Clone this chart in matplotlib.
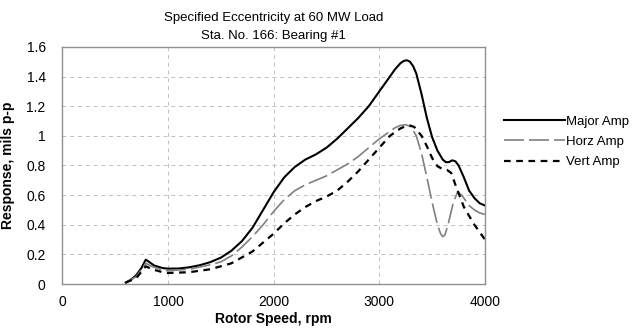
import numpy as np
import matplotlib
matplotlib.use('Agg')
import matplotlib.pyplot as plt
from matplotlib.ticker import FormatStrFormatter

plt.rcParams['font.family'] = ['Liberation Sans', 'DejaVu Sans']

# Major Amp (black solid)
major_rpm = [600, 650, 700, 750, 790, 820, 870, 950, 1000, 1100, 1200, 1300, 1400, 1500,
             1600, 1700, 1800, 1900, 2000, 2100, 2200, 2300, 2400, 2500, 2600, 2700,
             2800, 2900, 3000, 3100, 3150, 3200, 3230, 3260, 3290, 3320, 3350, 3400,
             3450, 3500, 3550, 3600, 3630, 3660, 3690, 3720, 3750, 3800, 3850, 3900,
             3950, 4000]
major_amp = [0.01, 0.03, 0.06, 0.11, 0.165, 0.15, 0.125, 0.108, 0.104, 0.105, 0.113, 0.127,
             0.148, 0.178, 0.225, 0.29, 0.38, 0.50, 0.62, 0.72, 0.79, 0.84, 0.875, 0.92,
             0.98, 1.05, 1.12, 1.20, 1.30, 1.40, 1.45, 1.49, 1.505, 1.51, 1.50, 1.47, 1.42, 1.28,
             1.12, 0.99, 0.90, 0.84, 0.822, 0.823, 0.835, 0.828, 0.80, 0.72, 0.63, 0.58,
             0.545, 0.53]

# Horz Amp (grey long dash)
horz_rpm = [600, 700, 790, 850, 950, 1000, 1200, 1400, 1500, 1600, 1700, 1800, 1900,
            2000, 2100, 2200, 2300, 2400, 2500, 2600, 2700, 2800, 2900, 3000, 3100,
            3150, 3200, 3250, 3300, 3350, 3400, 3450, 3500, 3550, 3580, 3600, 3620, 3650,
            3700, 3740, 3780, 3850, 3900, 3950, 4000]
horz_amp = [0.01, 0.05, 0.14, 0.118, 0.095, 0.09, 0.10, 0.13, 0.15, 0.19, 0.25, 0.32, 0.40,
            0.49, 0.57, 0.63, 0.67, 0.70, 0.73, 0.77, 0.81, 0.86, 0.92, 0.98, 1.03,
            1.055, 1.07, 1.075, 1.06, 1.0, 0.88, 0.72, 0.55, 0.40, 0.34, 0.32, 0.33, 0.40,
            0.55, 0.62, 0.60, 0.53, 0.50, 0.48, 0.47]

# Vert Amp (black short dash)
vert_rpm = [600, 700, 790, 850, 950, 1000, 1200, 1400, 1600, 1800, 2000, 2100, 2200,
            2300, 2400, 2500, 2600, 2700, 2800, 2900, 3000, 3100, 3200, 3250, 3290, 3330,
            3400, 3450, 3500, 3550, 3600, 3640, 3680, 3720, 3800, 3900, 4000]
vert_amp = [0.01, 0.04, 0.12, 0.10, 0.08, 0.075, 0.08, 0.10, 0.14, 0.22, 0.34, 0.41, 0.47,
            0.52, 0.56, 0.59, 0.63, 0.69, 0.76, 0.84, 0.92, 1.0, 1.05, 1.065, 1.07, 1.06,
            1.0, 0.93, 0.85, 0.795, 0.775, 0.77, 0.75, 0.67, 0.52, 0.40, 0.30]

fig = plt.figure(figsize=(6.39, 3.35), dpi=100)
ax = fig.add_axes([0.0975, 0.152, 0.6615, 0.708])

ax.plot(major_rpm, major_amp, color='black', lw=1.5, label='Major Amp')
ax.plot(horz_rpm, horz_amp, color='#808080', lw=1.2, dashes=(12, 3), label='Horz Amp')
ax.plot(vert_rpm, vert_amp, color='black', lw=1.6, dashes=(3, 2.5), label='Vert Amp')

ax.set_xlim(0, 4000)
ax.set_ylim(0, 1.6)
ax.set_xticks([0, 1000, 2000, 3000, 4000])
ax.set_yticks(np.arange(0, 1.61, 0.2))
ax.yaxis.set_major_formatter(FormatStrFormatter('%g'))
ax.tick_params(length=0, labelsize=10, pad=8)
ax.tick_params(axis='y', pad=12)
ax.grid(True, color='#c0c0c0', ls=(0, (4, 4)), lw=0.7)
for s in ax.spines.values():
    s.set_color('#909090')
    s.set_linewidth(1.0)

ax.set_xlabel('Rotor Speed, rpm', fontsize=10, fontweight='bold', labelpad=2)
ax.set_ylabel('Response, mils p-p', fontsize=10, fontweight='bold', labelpad=8)
ax.set_title('Specified Eccentricity at 60 MW Load\nSta. No. 166: Bearing #1',
             fontsize=9.5, linespacing=1.6, pad=6)

fig.legend(loc='upper left', bbox_to_anchor=(0.77, 0.69), frameon=False,
           fontsize=9.5, handlelength=4.6, handletextpad=0.1, labelspacing=0.6)

fig.savefig('out.png', dpi=100)
